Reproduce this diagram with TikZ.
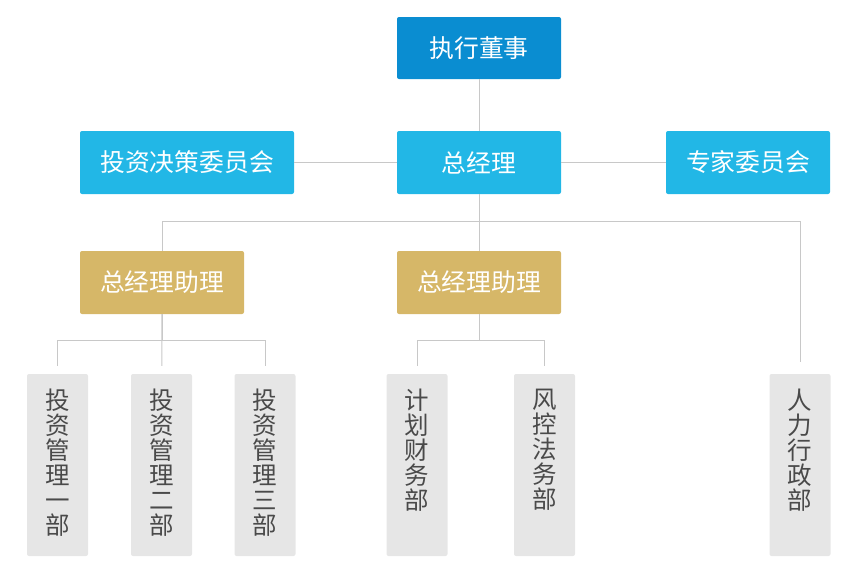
\documentclass[tikz,border=0pt]{standalone}
\usepackage{fontspec}
\setmainfont{Noto Sans CJK SC}
\usepackage{tikz}
\usetikzlibrary{positioning}

\definecolor{topblue}{HTML}{0A8DD1}
\definecolor{midblue}{HTML}{22B7E6}
\definecolor{gold}{HTML}{D6B768}
\definecolor{deptgray}{HTML}{E6E6E6}
\definecolor{linegray}{HTML}{C8C8C8}
\definecolor{textgray}{HTML}{4A4A4A}

% vertical text for the department boxes
\newcommand{\vtext}[1]{\parbox[c][152pt][t]{28pt}{\centering\fontsize{24.5}{25}\selectfont #1}}

\begin{document}
\begin{tikzpicture}
                    [
                        x=1pt, y=-1pt,
                        topnode/.style={rectangle, rounded corners=2pt, fill=topblue, text=white, minimum width=164pt, minimum height=62pt, font=\fontsize{24.8}{28}\selectfont},
                        midnode/.style={rectangle, rounded corners=2pt, fill=midblue, text=white, minimum width=164pt, minimum height=63pt, font=\fontsize{24.8}{28}\selectfont},
                        goldnode/.style={rectangle, rounded corners=2pt, fill=gold, text=white, minimum width=164pt, minimum height=63pt, font=\fontsize{24.8}{28}\selectfont},
                        deptnode/.style={rectangle, rounded corners=2pt, fill=deptgray, text=textgray, minimum width=61pt, minimum height=182pt, inner sep=0pt},
                        link/.style={draw=linegray, line width=1pt},
                    ]
                    \useasboundingbox (0,0) rectangle (863,582);

                    \node[topnode] (zhixing) at (479,48) {执行董事};
                    \node[midnode] (zongjingli) at (479,162.5) {总经理};
                    \node[midnode, minimum width=214pt] (touzihui) at (187,162.5) {投资决策委员会};
                    \node[midnode] (zhuanjia) at (748,162.5) {专家委员会};

                    \node[goldnode] (zhuli_left) at (162,282.5) {总经理助理};
                    \node[goldnode] (zhuli_mid) at (479,282.5) {总经理助理};

                    \node[deptnode] (touzi1) at (57.5,465) {\vtext{投\\资\\管\\理\\一\\部}};
                    \node[deptnode] (touzi2) at (161.5,465) {\vtext{投\\资\\管\\理\\二\\部}};
                    \node[deptnode] (touzi3) at (265,465) {\vtext{投\\资\\管\\理\\三\\部}};
                    \node[deptnode] (caiwu) at (417,465) {\vtext{计\\划\\财\\务\\部}};
                    \node[deptnode] (fengkong) at (544.5,465) {\vtext{风\\控\\法\\务\\部}};
                    \node[deptnode] (renli) at (800,465) {\vtext{人\\力\\行\\政\\部}};

                    \draw[link] (zhixing) -- (zongjingli);
                    \draw[link] (touzihui) -- (zongjingli);
                    \draw[link] (zongjingli) -- (zhuanjia);

                    \draw[link] (zongjingli.south) -- +(0,27) -| (zhuli_left.north);
                    \draw[link] (zongjingli) -- (zhuli_mid);
                    \draw[link, shorten >=12pt] (zongjingli.south) -- +(0,27) -| (renli.north);

                    \draw[link, shorten >=8pt] (zhuli_left.south) -- +(0,26) -| (touzi1.north);
                    \draw[link, shorten >=8pt] (zhuli_left) -- (touzi2);
                    \draw[link, shorten >=8pt] (zhuli_left.south) -- +(0,26) -| (touzi3.north);

                    \draw[link, shorten >=8pt] (zhuli_mid.south) -- +(0,26) -| (caiwu.north);
                    \draw[link, shorten >=8pt] (zhuli_mid.south) -- +(0,26) -| (fengkong.north);

                \end{tikzpicture}
\end{document}
